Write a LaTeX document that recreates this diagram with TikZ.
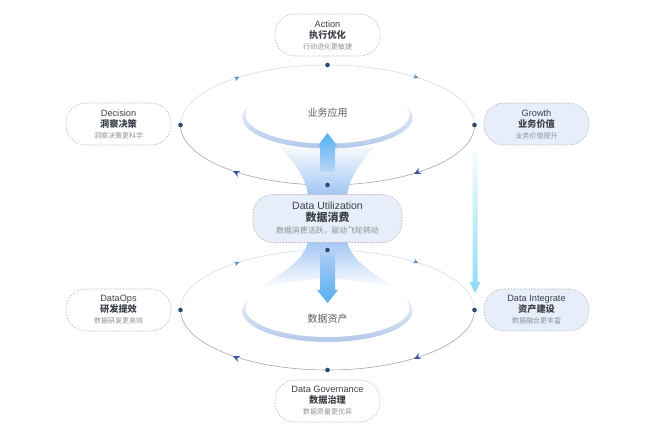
\documentclass[tikz,border=0pt]{standalone}
\usepackage{fontspec}
\setmainfont{Liberation Sans}
\newfontfamily\cjk{Noto Sans CJK SC}
\definecolor{ink}{HTML}{3C4048}
\definecolor{note}{HTML}{8C9096}
\definecolor{cardblue}{HTML}{E7EEFA}
\definecolor{funnelblue}{HTML}{9FC4F3}
\definecolor{arrowblue}{HTML}{55B0F0}
\definecolor{ringblue}{HTML}{B4C8EA}
\definecolor{dotblue}{HTML}{2C4A6E}
\definecolor{tipdark}{HTML}{3D52A3}
\definecolor{tiplight}{HTML}{5F8FB5}
\definecolor{flowmid}{HTML}{A3CBE2}
\definecolor{flowend}{HTML}{8CDDF3}
\newcommand{\cardtext}[3]{#1\\{\cjk\bfseries\fontsize{9.2}{11}\selectfont #2}\\{\cjk\fontsize{7}{9}\selectfont\color{note}#3}}
\newcommand{\maintext}[3]{#1\\{\cjk\bfseries\fontsize{11}{13}\selectfont #2}\\{\cjk\fontsize{7.9}{12}\selectfont\color{note}#3}}
\begin{document}
\begin{tikzpicture}[x=1pt,y=-1pt]
    \tikzstyle{card}=[draw=black!28,dash pattern=on 1.6pt off 1.4pt,line width=.6pt,rounded corners=20pt,
        minimum width=105pt,minimum height=42pt,align=center,text=ink,inner sep=0pt,
        font=\fontsize{9.2}{11}\selectfont]
    \tikzstyle{dot}=[circle,fill=dotblue,inner sep=0pt,minimum size=4.6pt]
    \tikzstyle{core}=[text=ink!85,font=\cjk\fontsize{10}{12}\selectfont]
    \tikzset{flowtip/.pic={\fill[pic actions] (3.5,0) -- (-3.5,3.2) -- (-1.4,0) -- (-3.5,-3.2) -- cycle;}}

    \useasboundingbox (0,0) rectangle (654,438);

    \foreach \cy in {125,310} {
        \draw[color=ringblue!55,line width=.7pt] (180.5,\cy) arc[start angle=180,end angle=360,x radius=147,y radius=60];
        \draw[color=black!35,line width=.6pt] (180.5,\cy) arc[start angle=180,end angle=0,x radius=147,y radius=60];
    }

    \shade[top color=white,middle color=funnelblue!55,bottom color=funnelblue] (276,143) .. controls (298,165) and (306,180) .. (308,196) -- (347,196) .. controls (349,180) and (357,165) .. (379,143) -- cycle;
    \shade[top color=funnelblue,middle color=funnelblue!60,bottom color=white] (308,240) .. controls (306,258) and (285,272) .. (258,288) -- (397,288) .. controls (370,272) and (349,258) .. (347,240) -- cycle;
    \shade[top color=white,bottom color=ringblue] (327.5,117.5) ellipse[x radius=85,y radius=31];
    \shade[top color=white,bottom color=ringblue] (327.5,311) ellipse[x radius=85,y radius=31];
    \fill[white] (327.5,114.5) ellipse[x radius=82,y radius=29];
    \fill[white] (327.5,308) ellipse[x radius=82,y radius=29];

    \coordinate(rise_a) at (327.5,172);
    \coordinate(rise_b) at (327.5,133);
    \coordinate(drop_a) at (327.5,252);
    \coordinate(drop_b) at (327.5,303);
    \coordinate(flow_a) at (475,153);
    \coordinate(flow_b) at (475,293);

    \shade[top color=arrowblue,bottom color=funnelblue!70] ([xshift=-7.5pt]rise_a) -- ([xshift=-7.5pt,yshift=-13pt]rise_b) -- ([xshift=-10pt,yshift=-13pt]rise_b) -- (rise_b) -- ([xshift=10pt,yshift=-13pt]rise_b) -- ([xshift=7.5pt,yshift=-13pt]rise_b) -- ([xshift=7.5pt]rise_a) -- cycle;
    \shade[top color=funnelblue!85,bottom color=arrowblue] ([xshift=-7.5pt]drop_a) -- ([xshift=-7.5pt,yshift=13pt]drop_b) -- ([xshift=-10.5pt,yshift=13pt]drop_b) -- (drop_b) -- ([xshift=10.5pt,yshift=13pt]drop_b) -- ([xshift=7.5pt,yshift=13pt]drop_b) -- ([xshift=7.5pt]drop_a) -- cycle;
    \shade[top color=flowend!10,middle color=flowmid,bottom color=flowend] ([xshift=-2.5pt]flow_a) -- ([xshift=-2.5pt,yshift=11pt]flow_b) -- ([xshift=-5.5pt,yshift=11pt]flow_b) -- (flow_b) -- ([xshift=5.5pt,yshift=11pt]flow_b) -- ([xshift=2.5pt,yshift=11pt]flow_b) -- ([xshift=2.5pt]flow_a) -- cycle;

    \foreach \cy in {125,310} {
        \node(top_\cy)[dot] at (327.5,\cy-60) {};
        \node(bottom_\cy)[dot] at (327.5,\cy+60) {};
        \node(left_\cy)[dot] at (180.5,\cy) {};
        \node(right_\cy)[dot] at (474.5,\cy) {};
        \pic[fill=tiplight,scale=.75,rotate=20] at (237,\cy-47) {flowtip};
        \pic[fill=tiplight,scale=.75,rotate=-25] at (416,\cy-48) {flowtip};
        \pic[fill=tipdark,rotate=205] at (417,\cy+47.5) {flowtip};
        \pic[fill=tipdark,rotate=155] at (236,\cy+47.5) {flowtip};
    }

    \node(apps)[core] at (327.5,113) {业务应用};
    \node(assets)[core] at (327.5,319) {数据资产};

    \node(action)[card] at (327.5,35) {\cardtext{Action}{执行优化}{行动进化更敏捷}};
    \node(decision)[card] at (118.5,124) {\cardtext{Decision}{洞察决策}{洞察决策更科学}};
    \node(growth)[card,fill=cardblue] at (536.5,124) {\cardtext{Growth}{业务价值}{业务价值提升}};
    \node(usage)[card,fill=cardblue,minimum width=149pt,minimum height=48pt,font=\fontsize{10.5}{12}\selectfont] at (327.5,218.5) {\maintext{Data Utilization}{数据消费}{数据消费活跃，驱动飞轮转动}};
    \node(ops)[card] at (118.5,310) {\cardtext{DataOps}{研发提效}{数据研发更高效}};
    \node(integrate)[card,fill=cardblue] at (536.5,310) {\cardtext{Data Integrate}{资产建设}{数据融合更丰富}};
    \node(governance)[card] at (327.5,401) {\cardtext{Data Governance}{数据治理}{数据质量更优异}};
\end{tikzpicture}
\end{document}
